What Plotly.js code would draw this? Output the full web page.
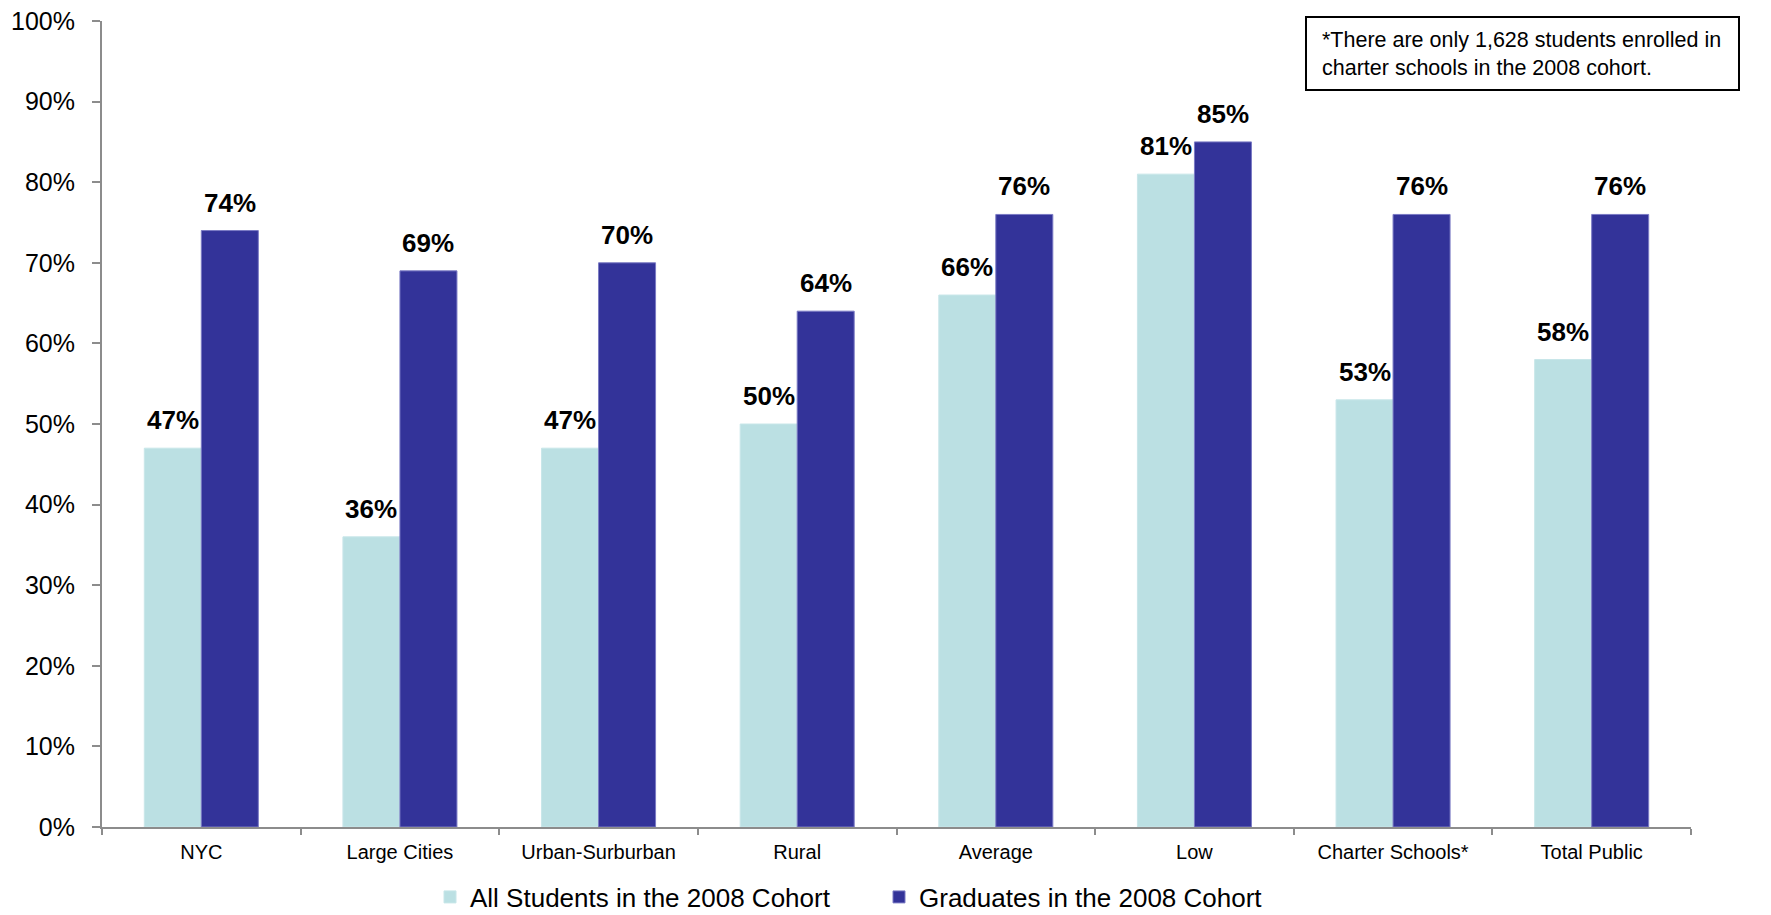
<!DOCTYPE html>
<html>
<head>
<meta charset="utf-8">
<script src="https://cdn.plot.ly/plotly-3.0.1.min.js"></script>
<style>html,body{margin:0;padding:0;background:#fff;}#chart{width:1771px;height:915px;}</style>
</head>
<body>
<div id="chart"></div>
<script>
const categories = ["NYC", "Large Cities", "Urban-Surburban", "Rural", "Average", "Low", "Charter Schools*", "Total Public"];
const allStudents = [47, 36, 47, 50, 66, 81, 53, 58];
const graduates = [74, 69, 70, 64, 76, 85, 76, 76];
const seriesNames = ["All Students in the 2008 Cohort", "Graduates in the 2008 Cohort"];
const noteText = "*There are only 1,628 students enrolled in<br>charter schools in the 2008 cohort.";

const FONT = "Liberation Sans, Arial, sans-serif";
const W = 1771, H = 915;
const mL = 102, mR = 80, mT = 21, mB = 88;
const plotW = W - mL - mR, plotH = H - mT - mB;
const px2x = p => (p - mL) / plotW;
const py2y = p => (H - mB - p) / plotH;

const traces = [
  {type: "bar", name: seriesNames[0], x: categories, y: allStudents,
   marker: {color: "#BBE0E3", line: {color: "#c8e6e9", width: 1}}, hoverinfo: "x+y"},
  {type: "bar", name: seriesNames[1], x: categories, y: graduates,
   marker: {color: "#333399", line: {color: "#7a7ac4", width: 1}}, hoverinfo: "x+y"}
];

const annotations = [];
const half = 28.5;
categories.forEach((c, i) => {
  annotations.push({x: c, y: allStudents[i], xref: "x", yref: "y", text: allStudents[i] + "%",
    showarrow: false, xshift: -half, yshift: 11, yanchor: "bottom", xanchor: "center",
    font: {family: FONT, size: 26, color: "#000", weight: "bold"}});
  annotations.push({x: c, y: graduates[i], xref: "x", yref: "y", text: graduates[i] + "%",
    showarrow: false, xshift: half, yshift: 11, yanchor: "bottom", xanchor: "center",
    font: {family: FONT, size: 26, color: "#000", weight: "bold"}});
});
annotations.push({xref: "paper", yref: "paper", x: px2x(1320), y: py2y(54), xanchor: "left", yanchor: "middle",
  align: "left", showarrow: false, text: noteText, font: {family: FONT, size: 21.5, color: "#000"}});

const layout = {
  width: W, height: H,
  margin: {l: mL, r: mR, t: mT, b: mB, pad: 0, autoexpand: false},
  paper_bgcolor: "#fff", plot_bgcolor: "#fff",
  font: {family: FONT, color: "#000"},
  barmode: "group", bargap: 0.426, bargroupgap: 0,
  showlegend: true,
  legend: {orientation: "h", x: px2x(430), xanchor: "left", y: py2y(897), yanchor: "middle",
    entrywidth: 404, entrywidthmode: "pixels",
    font: {family: FONT, size: 26, color: "#000"}, bgcolor: "rgba(0,0,0,0)"},
  xaxis: {type: "category", tickson: "boundaries", ticks: "outside", ticklen: 6, tickwidth: 2,
    tickcolor: "#8c8c8c", showline: true, linecolor: "#8c8c8c", linewidth: 2, showgrid: false,
    ticklabelstandoff: 6,
    tickfont: {family: FONT, size: 20, color: "#000"}, fixedrange: true},
  yaxis: {range: [0, 100], dtick: 10, ticksuffix: "%", ticks: "outside", ticklen: 8, tickwidth: 2,
    tickcolor: "#8c8c8c", showline: true, linecolor: "#8c8c8c", linewidth: 2, showgrid: false,
    zeroline: false, ticklabelstandoff: 12, tickfont: {family: FONT, size: 25, color: "#000"}, fixedrange: true},
  shapes: [{type: "rect", xref: "paper", yref: "paper", x0: px2x(1306), x1: px2x(1739), y0: py2y(90), y1: py2y(17),
    line: {color: "#000", width: 2}, fillcolor: "#fff", layer: "above"}],
  annotations: annotations
};

Plotly.newPlot("chart", traces, layout, {displayModeBar: false, staticPlot: true});
</script>
</body>
</html>
